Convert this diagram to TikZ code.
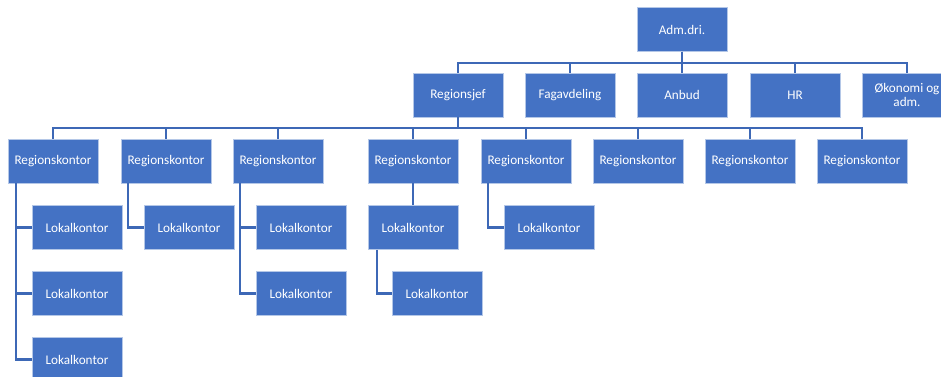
\documentclass[tikz,border=0pt]{standalone}
\usepackage{fontspec}
\setmainfont{Carlito}
\usetikzlibrary{positioning}
\definecolor{boxblue}{HTML}{4472C4}
\definecolor{lineblue}{HTML}{3D68B6}
\definecolor{edgeblue}{HTML}{B4C7E7}
\tikzset{
  orgbox/.style={rectangle, fill=boxblue, draw=edgeblue, line width=0.5pt, text=white,
    minimum width=67.5pt, minimum height=33pt, inner sep=1pt, align=center,
    font=\fontsize{9.9}{11}\selectfont},
  link/.style={draw=lineblue, line width=1.6pt}
}
\begin{document}
\begin{tikzpicture}[x=0.75pt, y=-0.75pt]
      \useasboundingbox (0, 0) rectangle (941, 376);
      \node[orgbox] (adm) at (682, 29.5) {Adm.dri.};

      \node[orgbox] (regjef) at (458, 95) {Regionsjef};
      \node[orgbox] (fag) at (570, 95) {Fagavdeling};
      \node[orgbox] (anbud) at (682, 95) {Anbud};
      \node[orgbox] (hr) at (795, 95) {HR};
      \node[orgbox] (okon) at (907, 95) {Økonomi og\\adm.};

      \node[orgbox] (rk1) at (53, 161) {Regionskontor};
      \node[orgbox] (rk2) at (166, 161) {Regionskontor};
      \node[orgbox] (rk3) at (278, 161) {Regionskontor};
      \node[orgbox] (rk4) at (413, 161) {Regionskontor};
      \node[orgbox] (rk5) at (526, 161) {Regionskontor};
      \node[orgbox] (rk6) at (638, 161) {Regionskontor};
      \node[orgbox] (rk7) at (750, 161) {Regionskontor};
      \node[orgbox] (rk8) at (862, 161) {Regionskontor};

      \node[orgbox] (lk11) at (77, 227.5) {Lokalkontor};
      \node[orgbox] (lk12) at (77, 293.5) {Lokalkontor};
      \node[orgbox] (lk13) at (77, 359.5) {Lokalkontor};
      \node[orgbox] (lk21) at (189, 227.5) {Lokalkontor};
      \node[orgbox] (lk31) at (301, 227.5) {Lokalkontor};
      \node[orgbox] (lk32) at (301, 293.5) {Lokalkontor};
      \node[orgbox] (lk41) at (413, 227.5) {Lokalkontor};
      \node[orgbox] (lk42) at (437, 293.5) {Lokalkontor};
      \node[orgbox] (lk51) at (549, 227.5) {Lokalkontor};

      % top level bus
      \foreach \c in {regjef, fag, anbud, hr, okon}
        \draw[link] (adm.south) -- ++(0, 11.5) -| (\c.north);

      % region offices
      \foreach \c in {rk1, rk2, rk3, rk4, rk5, rk6, rk7, rk8}
        \draw[link] (regjef.south) -- ++(0, 11) -| (\c.north);

      % local offices
      \foreach \c in {lk11, lk12, lk13}
        \draw[link] ([xshift=6pt]rk1.south west) |- (\c.west);
      \draw[link] ([xshift=5.25pt]rk2.south west) |- (lk21.west);
      \foreach \c in {lk31, lk32}
        \draw[link] ([xshift=5.25pt]rk3.south west) |- (\c.west);
      \draw[link] (rk4.south) -- (lk41.north);
      \draw[link] ([xshift=6.75pt]lk41.south west) |- (lk42.west);
      \draw[link] ([xshift=5.25pt]rk5.south west) |- (lk51.west);
    \end{tikzpicture}
\end{document}
